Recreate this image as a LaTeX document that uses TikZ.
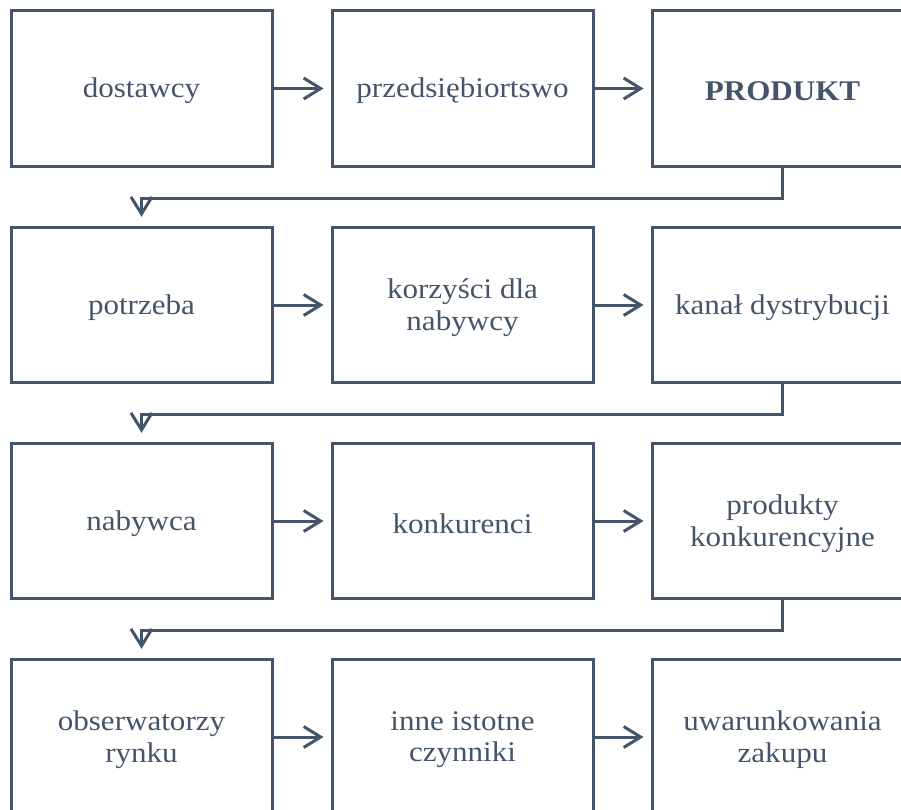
\documentclass[tikz,border=0pt]{standalone}
\usepackage{fontspec}
\setmainfont{Liberation Serif}[FakeStretch=1.09]
\usetikzlibrary{arrows.meta}
\definecolor{slate}{HTML}{44546A}
\begin{document}
\begin{tikzpicture}[x=1pt,y=-1pt,
  box/.style={draw=slate, line width=3pt, minimum width=261pt, minimum height=155.5pt,
    inner sep=0pt},
  lbl/.style={align=center, text=slate, inner sep=0pt, yshift=-2.5pt,
    font=\fontsize{28.5}{31.7}\selectfont},
  conn/.style={draw=slate, line width=3pt, -{Straight Barb[length=17pt,width=21pt,line width=3pt]}}]
\useasboundingbox (0,0) rectangle (901,809);
\node[box, label={[lbl]center:dostawcy}] (a1) at (141.5,88.5) {};
\node[box, label={[lbl]center:przedsiębiortswo}] (a2) at (462.5,88.5) {};
\node[box, label={[lbl]center:\textbf{PRODUKT}}] (a3) at (782.5,88.5) {};
\node[box, label={[lbl]center:potrzeba}] (b1) at (141.5,305) {};
\node[box, label={[lbl]center:{korzyści dla\\nabywcy}}] (b2) at (462.5,305) {};
\node[box, label={[lbl]center:kanał dystrybucji}] (b3) at (782.5,305) {};
\node[box, label={[lbl]center:nabywca}] (c1) at (141.5,521) {};
\node[box, label={[lbl]center:konkurenci}] (c2) at (462.5,521) {};
\node[box, label={[lbl]center:{produkty\\konkurencyjne}}] (c3) at (782.5,521) {};
\node[box, label={[lbl]center:{obserwatorzy\\rynku}}] (d1) at (141.5,737) {};
\node[box, label={[lbl]center:{inne istotne\\czynniki}}] (d2) at (462.5,737) {};
\node[box, label={[lbl]center:{uwarunkowania\\zakupu}}] (d3) at (782.5,737) {};
\foreach \r in {a,b,c,d}{
  \draw[conn, shorten >=7pt] (\r1.east) -- (\r2.west);
  \draw[conn, shorten >=7pt] (\r2.east) -- (\r3.west);
}
\draw[conn, shorten >=9pt] (a3.south) -- ++(0,30.5) -| (b1.north);
\draw[conn, shorten >=9pt] (b3.south) -- ++(0,30.5) -| (c1.north);
\draw[conn, shorten >=9pt] (c3.south) -- ++(0,30.5) -| (d1.north);
\end{tikzpicture}
\end{document}
